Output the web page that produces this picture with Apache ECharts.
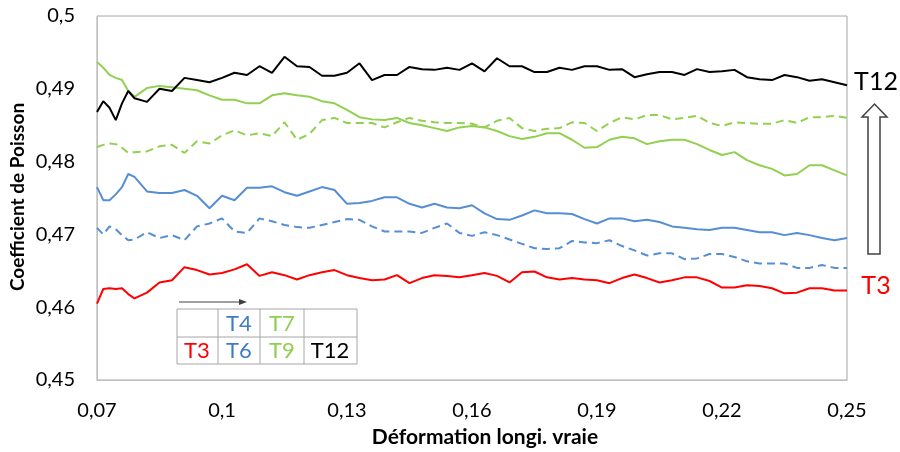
<!DOCTYPE html>
<html>
<head>
<meta charset="utf-8">
<script src="https://cdn.jsdelivr.net/npm/echarts@6/dist/echarts.min.js"></script>
<style>
html,body{margin:0;padding:0;background:#fff;}
#chart{width:900px;height:452px;}
</style>
</head>
<body>
<div id="chart"></div>
<script>
// Déformation longitudinale vraie (x)
const strain = [0.070,0.0715,0.073,0.0745,0.076,0.0775,0.079,0.082,0.085,0.088,0.091,0.094,0.097,
  0.100,0.103,0.106,0.109,0.112,0.115,0.118,0.121,0.124,0.127,
  0.130,0.133,0.136,0.139,0.142,0.145,0.148,0.151,0.154,0.157,
  0.160,0.163,0.166,0.169,0.172,0.175,0.178,0.181,0.184,0.187,
  0.190,0.193,0.196,0.199,0.202,0.205,0.208,0.211,0.214,0.217,
  0.220,0.223,0.226,0.229,0.232,0.235,0.238,0.241,0.244,0.247,0.250];

const T12 = [0.4868,0.4883,0.4874,0.4857,0.4880,0.4897,0.4887,0.4882,0.4900,0.4897,0.4915,0.4912,0.4909,
  0.4915,0.4922,0.4919,0.4931,0.4922,0.4944,0.4931,0.4930,0.4918,0.4918,
  0.4922,0.4935,0.4912,0.4919,0.4919,0.4930,0.4927,0.4926,0.4929,0.4926,
  0.4935,0.4924,0.4942,0.4931,0.4931,0.4923,0.4923,0.4929,0.4926,0.4931,
  0.4931,0.4926,0.4927,0.4916,0.4920,0.4923,0.4923,0.4919,0.4927,0.4923,
  0.4924,0.4926,0.4916,0.4913,0.4912,0.4919,0.4916,0.4911,0.4913,0.4909,0.4905];

const T9 = [0.4937,0.4929,0.4919,0.4915,0.4912,0.4897,0.4889,0.4901,0.4904,0.4902,0.4900,0.4898,0.4891,
  0.4885,0.4885,0.4880,0.4880,0.4891,0.4894,0.4891,0.4889,0.4883,0.4880,
  0.4871,0.4861,0.4858,0.4857,0.4860,0.4853,0.4850,0.4846,0.4842,0.4847,
  0.4849,0.4847,0.4842,0.4835,0.4831,0.4834,0.4839,0.4839,0.4830,0.4819,
  0.4820,0.4830,0.4834,0.4832,0.4824,0.4828,0.4830,0.4830,0.4824,0.4816,
  0.4809,0.4813,0.4802,0.4795,0.4790,0.4781,0.4783,0.4795,0.4795,0.4788,0.4781];

const T7 = [0.4820,0.4823,0.4825,0.4824,0.4819,0.4812,0.4813,0.4814,0.4821,0.4823,0.4812,0.4828,0.4825,
  0.4836,0.4843,0.4836,0.4839,0.4835,0.4854,0.4830,0.4838,0.4857,0.4860,
  0.4853,0.4853,0.4853,0.4847,0.4854,0.4860,0.4856,0.4854,0.4853,0.4853,
  0.4852,0.4847,0.4856,0.4860,0.4846,0.4842,0.4845,0.4846,0.4854,0.4853,
  0.4842,0.4853,0.4861,0.4858,0.4864,0.4864,0.4858,0.4860,0.4863,0.4853,
  0.4849,0.4854,0.4853,0.4852,0.4852,0.4857,0.4853,0.4861,0.4861,0.4863,0.4860];

const T6 = [0.4765,0.4747,0.4747,0.4755,0.4765,0.4783,0.4779,0.4759,0.4757,0.4757,0.4761,0.4753,0.4736,
  0.4753,0.4747,0.4764,0.4764,0.4766,0.4758,0.4753,0.4759,0.4765,0.4761,
  0.4742,0.4743,0.4746,0.4751,0.4751,0.4742,0.4737,0.4742,0.4737,0.4736,
  0.4740,0.4729,0.4721,0.4720,0.4726,0.4733,0.4729,0.4729,0.4728,0.4721,
  0.4715,0.4722,0.4722,0.4718,0.4720,0.4717,0.4711,0.4709,0.4707,0.4706,
  0.4709,0.4709,0.4706,0.4703,0.4703,0.4699,0.4702,0.4699,0.4695,0.4692,0.4695];

const T4 = [0.4709,0.4700,0.4711,0.4707,0.4699,0.4692,0.4693,0.4703,0.4695,0.4699,0.4692,0.4711,0.4715,
  0.4722,0.4704,0.4702,0.4722,0.4718,0.4713,0.4710,0.4709,0.4713,0.4717,
  0.4721,0.4720,0.4711,0.4704,0.4704,0.4704,0.4702,0.4709,0.4715,0.4702,
  0.4698,0.4703,0.4699,0.4693,0.4687,0.4681,0.4680,0.4681,0.4691,0.4689,
  0.4688,0.4692,0.4684,0.4678,0.4671,0.4674,0.4674,0.4666,0.4667,0.4673,
  0.4673,0.4669,0.4663,0.4660,0.4660,0.4660,0.4654,0.4654,0.4658,0.4654,0.4654];

const T3 = [0.4605,0.4625,0.4626,0.4625,0.4626,0.4618,0.4612,0.4620,0.4634,0.4637,0.4655,0.4651,0.4645,
  0.4647,0.4652,0.4659,0.4643,0.4648,0.4644,0.4638,0.4644,0.4648,0.4651,
  0.4644,0.4640,0.4637,0.4638,0.4644,0.4633,0.4640,0.4644,0.4643,0.4641,
  0.4644,0.4647,0.4643,0.4634,0.4648,0.4649,0.4641,0.4638,0.4640,0.4638,
  0.4637,0.4633,0.4640,0.4645,0.4640,0.4634,0.4637,0.4641,0.4641,0.4636,
  0.4627,0.4627,0.4630,0.4629,0.4626,0.4619,0.4620,0.4626,0.4626,0.4623,0.4623];

const xTicks = [0.07,0.10,0.13,0.16,0.19,0.22,0.25];
const yTicks = [0.45,0.46,0.47,0.48,0.49,0.50];
const xTitle = 'Déformation longi. vraie';
const yTitle = 'Coefficient de Poisson';

const C = {red:'#ff0000', blue:'#558ed5', green:'#92d050', black:'#000000',
           blueTxt:'#3f7cc8', greenTxt:'#8fcf4f'};
const FONT = 'Lato, "Open Sans", sans-serif';

function fmt(v){ return String(Number(v.toFixed(2))).replace('.', ','); }
function pairs(ys){ return strain.map((x,i)=>[x, ys[i]]); }

function mkSeries(name, ys, color, dashed){
  return {name, type:'line', data:pairs(ys), showSymbol:false, symbol:'none',
    lineStyle:{color, width:2, type: dashed ? [8,5] : 'solid'},
    itemStyle:{color}, animation:false, z: dashed ? 2 : 3};
}

const chart = echarts.init(document.getElementById('chart'), null, {renderer:'canvas'});

const tbl = {x0:177, x1:357, y0:309, ym:337, y1:364, cols:[218,260,304]};
const lineClr = '#a6a6a6';
const g = [];
// table frame
g.push({type:'rect', shape:{x:tbl.x0, y:tbl.y0, width:tbl.x1-tbl.x0, height:tbl.y1-tbl.y0},
  style:{fill:'#fff', stroke:lineClr, lineWidth:1}, z:10});
g.push({type:'line', shape:{x1:tbl.x0, y1:tbl.ym, x2:tbl.x1, y2:tbl.ym}, style:{stroke:lineClr, lineWidth:1}, z:10});
tbl.cols.forEach(cx=>g.push({type:'line', shape:{x1:cx, y1:tbl.y0, x2:cx, y2:tbl.y1}, style:{stroke:lineClr, lineWidth:1}, z:10}));
function cellText(t, x, y, fill, size){
  g.push({type:'text', x, y, z:11, style:{text:t, fill, font: size+'px '+FONT, textAlign:'center', textVerticalAlign:'middle'}});
}
cellText('T4', 239, 324, C.blueTxt, 22);
cellText('T7', 282, 324, C.greenTxt, 22);
cellText('T3', 197, 351, C.red, 22);
cellText('T6', 239, 351, C.blueTxt, 22);
cellText('T9', 282, 351, C.greenTxt, 22);
cellText('T12', 330, 351, '#000', 22);
// small arrow above table
g.push({type:'line', shape:{x1:179, y1:302, x2:241, y2:302}, style:{stroke:'#404040', lineWidth:1}, z:10});
g.push({type:'polygon', shape:{points:[[247,302],[239,299],[239,305]]}, style:{fill:'#404040'}, z:10});
// right side labels and hollow arrow
cellText('T12', 876, 82, '#000', 25);
cellText('T3', 876, 286, C.red, 25);
g.push({type:'polygon', shape:{points:[[868,254],[880,254],[880,117],[887,117],[874.5,104],[862,117],[868,117]]},
  style:{fill:'#fff', stroke:'#404040', lineWidth:1.5}, z:10});
// axis titles
g.push({type:'text', x:485, y:437, style:{text:xTitle, fill:'#000', font:'bold 21px '+FONT, textAlign:'center', textVerticalAlign:'middle'}});
g.push({type:'text', x:18, y:197, rotation:Math.PI/2, style:{text:yTitle, fill:'#000', font:'bold 19px '+FONT, textAlign:'center', textVerticalAlign:'middle'}});

chart.setOption({
  animation:false,
  backgroundColor:'#fff',
  grid:{left:97, right:53, top:16, bottom:72, show:true, borderColor:'#a6a6a6', borderWidth:1, containLabel:false},
  xAxis:{type:'value', min:0.07, max:0.25,
    axisLine:{show:true, lineStyle:{color:'#bfbfbf', width:1}},
    axisTick:{show:false},
    splitLine:{show:false},
    axisLabel:{customValues:xTicks, formatter:fmt, color:'#000', fontSize:20, fontFamily:FONT, margin:21}},
  yAxis:{type:'value', min:0.45, max:0.5,
    axisLine:{show:true, lineStyle:{color:'#bfbfbf', width:1}},
    axisTick:{show:false},
    splitLine:{show:false},
    axisLabel:{customValues:yTicks, formatter:fmt, color:'#000', fontSize:20, fontFamily:FONT, margin:22}},
  series:[
    mkSeries('T3', T3, C.red, false),
    mkSeries('T4', T4, C.blue, true),
    mkSeries('T6', T6, C.blue, false),
    mkSeries('T7', T7, C.green, true),
    mkSeries('T9', T9, C.green, false),
    mkSeries('T12', T12, C.black, false)
  ],
  graphic:g
});
</script>
</body>
</html>
